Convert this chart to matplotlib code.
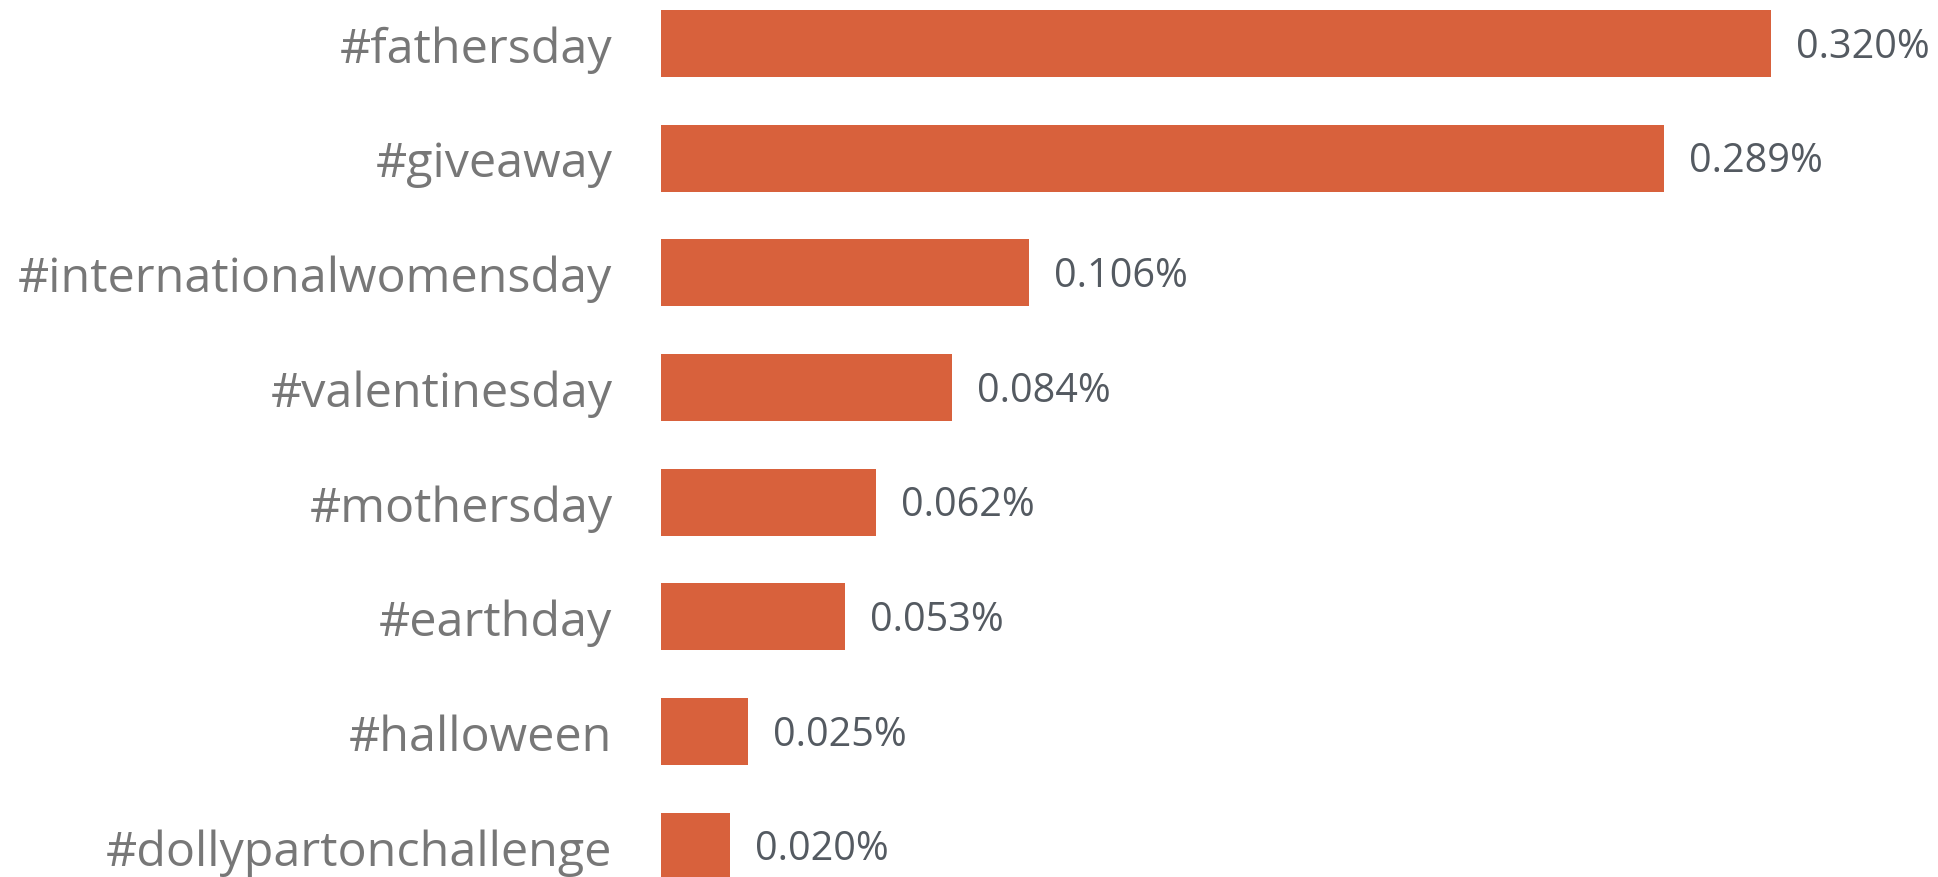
import matplotlib
matplotlib.use("Agg")
import matplotlib.pyplot as plt

# hashtag engagement share, top to bottom
hashtags = ['#fathersday', '#giveaway', '#internationalwomensday', '#valentinesday',
            '#mothersday', '#earthday', '#halloween', '#dollypartonchallenge']
values = [0.320, 0.289, 0.106, 0.084, 0.062, 0.053, 0.025, 0.020]
value_labels = ['0.320%', '0.289%', '0.106%', '0.084%', '0.062%', '0.053%', '0.025%', '0.020%']

plt.rcParams['font.family'] = ['Open Sans', 'DejaVu Sans']

W, H = 1938, 878
fig = plt.figure(figsize=(W / 100, H / 100), dpi=100)
ax = fig.add_axes([661 / W, 0, 1 - 661 / W, 1])

pos = list(range(len(hashtags)))
ax.barh(pos, values, height=0.584, color='#d8613c')

ax.set_xlim(0, 0.3681)
ax.set_ylim(7.267, -0.388)

ax.set_yticks(pos)
ax.set_yticklabels(hashtags, fontsize=34.8, color='#777777')
ax.tick_params(axis='y', length=0, pad=35)
ax.set_xticks([])
for s in ax.spines.values():
    s.set_visible(False)

for p, v, lab in zip(pos, values, value_labels):
    ax.annotate(lab, (v, p), xytext=(18, -2), textcoords='offset points',
                va='center', ha='left', fontsize=28.5, color='#545a61')

fig.savefig('out.png', dpi=100)
